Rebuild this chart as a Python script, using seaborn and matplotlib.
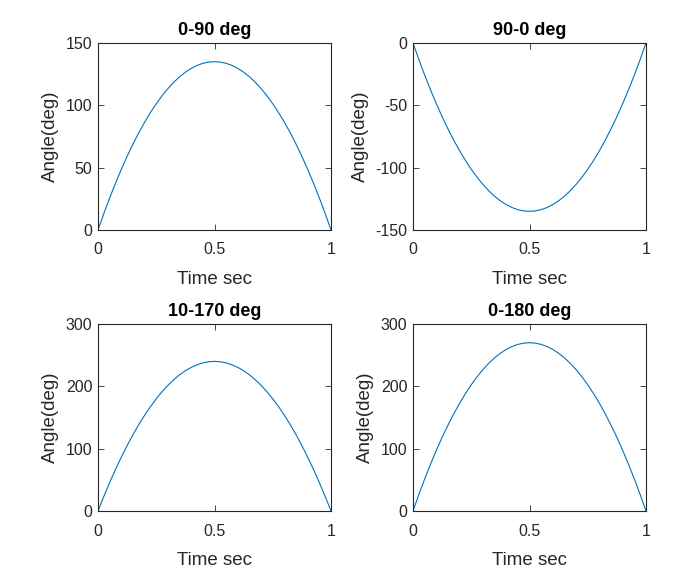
import matplotlib
matplotlib.use("Agg")
import matplotlib.pyplot as plt
import seaborn as sns
import pandas as pd

sns.set_theme(style="white")
plt.rcParams['font.family'] = ['Liberation Sans', 'DejaVu Sans']

time_s = [0.0, 0.025, 0.05, 0.075, 0.1, 0.125, 0.15, 0.175, 0.2, 0.225, 0.25,
          0.275, 0.3, 0.325, 0.35, 0.375, 0.4, 0.425, 0.45, 0.475, 0.5,
          0.525, 0.55, 0.575, 0.6, 0.625, 0.65, 0.675, 0.7, 0.725, 0.75,
          0.775, 0.8, 0.825, 0.85, 0.875, 0.9, 0.925, 0.95, 0.975, 1.0]

angle_0_90 = [0, 13.2, 25.7, 37.5, 48.6, 59.1, 68.9, 78.0, 86.4, 94.2, 101.3,
              107.7, 113.4, 118.5, 122.9, 126.6, 129.6, 132.0, 133.7, 134.7, 135,
              134.7, 133.7, 132.0, 129.6, 126.6, 122.9, 118.5, 113.4, 107.7, 101.3,
              94.2, 86.4, 78.0, 68.9, 59.1, 48.6, 37.5, 25.7, 13.2, 0]
angle_90_0 = [0, -13.2, -25.7, -37.5, -48.6, -59.1, -68.9, -78.0, -86.4, -94.2, -101.3,
              -107.7, -113.4, -118.5, -122.9, -126.6, -129.6, -132.0, -133.7, -134.7, -135,
              -134.7, -133.7, -132.0, -129.6, -126.6, -122.9, -118.5, -113.4, -107.7, -101.3,
              -94.2, -86.4, -78.0, -68.9, -59.1, -48.6, -37.5, -25.7, -13.2, 0]
angle_10_170 = [0, 23.4, 45.6, 66.6, 86.4, 105.0, 122.4, 138.6, 153.6, 167.4, 180.0,
                191.4, 201.6, 210.6, 218.4, 225.0, 230.4, 234.6, 237.6, 239.4, 240,
                239.4, 237.6, 234.6, 230.4, 225.0, 218.4, 210.6, 201.6, 191.4, 180.0,
                167.4, 153.6, 138.6, 122.4, 105.0, 86.4, 66.6, 45.6, 23.4, 0]
angle_0_180 = [0, 26.3, 51.3, 74.9, 97.2, 118.1, 137.7, 155.9, 172.8, 188.3, 202.5,
               215.3, 226.8, 236.9, 245.7, 253.1, 259.2, 263.9, 267.3, 269.3, 270,
               269.3, 267.3, 263.9, 259.2, 253.1, 245.7, 236.9, 226.8, 215.3, 202.5,
               188.3, 172.8, 155.9, 137.7, 118.1, 97.2, 74.9, 51.3, 26.3, 0]

titles = ["0-90 deg", "90-0 deg", "10-170 deg", "0-180 deg"]
series = [angle_0_90, angle_90_0, angle_10_170, angle_0_180]
ylims = [(0, 150), (-150, 0), (0, 300), (0, 300)]
yticks = [[0, 50, 100, 150], [-150, -100, -50, 0], [0, 100, 200, 300], [0, 100, 200, 300]]

W, H = 679, 571
fig = plt.figure(figsize=(W / 100, H / 100), dpi=100)
fig.patch.set_facecolor("white")

# axes boxes in pixels: (left, top, right, bottom)
boxes = [(98, 43, 331, 230), (413, 43, 646, 230), (98, 324, 331, 511), (413, 324, 646, 511)]

edge = "#262626"
for box, title, vals, yl, yt in zip(boxes, titles, series, ylims, yticks):
    l, t, r, b = box
    ax = fig.add_axes([l / W, 1 - b / H, (r - l) / W, (b - t) / H])
    df = pd.DataFrame({"t": time_s, "a": vals})
    sns.lineplot(data=df, x="t", y="a", ax=ax, color="#0072BD", linewidth=0.8)
    ax.set_xlim(0, 1)
    ax.set_ylim(*yl)
    ax.set_xticks([0, 0.5, 1])
    ax.set_xticklabels(["0", "0.5", "1"])
    ax.set_yticks(yt)
    ax.set_yticklabels([str(v) for v in yt])
    ax.tick_params(direction="in", length=4, width=0.6, color=edge,
                   top=True, right=True, bottom=True, left=True,
                   labelsize=11.5, labelcolor=edge)
    ax.tick_params(axis="x", pad=9)
    ax.tick_params(axis="y", pad=4)
    for s in ax.spines.values():
        s.set_color(edge)
        s.set_linewidth(0.8)
    ax.set_xlabel("Time sec", fontsize=13.5, color=edge, labelpad=10)
    ax.set_ylabel("Angle(deg)", fontsize=13.5, color=edge, labelpad=5)
    ax.set_title(title, fontsize=13, fontweight="bold", color="black", pad=6)

fig.savefig("out.png", dpi=100, facecolor="white")
